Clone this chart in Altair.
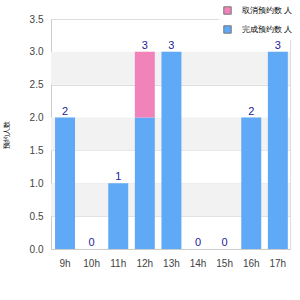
import altair as alt
import pandas as pd

hours = ["9h", "10h", "11h", "12h", "13h", "14h", "15h", "16h", "17h"]
series_a = [0, 0, 0, 1, 0, 0, 0, 0, 0]      # pink (top)
series_b = [2, 0, 1, 2, 3, 0, 0, 2, 3]      # blue (bottom)
name_a = "取消预约数 人"
name_b = "完成预约数 人"
y_title = "预约人数"
band_lo = [0.5, 1.5, 2.5]
band_hi = [1.0, 2.0, 3.0]
y_ticks = [0, 0.5, 1, 1.5, 2, 2.5, 3, 3.5]

rows = []
for h, a, b in zip(hours, series_a, series_b):
    rows.append({"hour": h, "series": name_b, "value": b, "ord": 0})
    rows.append({"hour": h, "series": name_a, "value": a, "ord": 1})
df = pd.DataFrame(rows)
tot = pd.DataFrame({"hour": hours, "total": [a + b for a, b in zip(series_a, series_b)]})
bands = pd.DataFrame({"lo": band_lo, "hi": band_hi})

FONT = "Liberation Sans"
yscale = alt.Scale(domain=[0, 3.5], nice=False)
yaxis = alt.Axis(values=y_ticks, format=".1f", ticks=False, labelOverlap=False,
                 labelColor="#444", labelFontSize=10, labelPadding=8,
                 gridColor="#dddddd", domainColor="#cccccc", labelFont=FONT,
                 titleFontSize=7, titleFontWeight="normal", titleColor="#000",
                 titlePadding=20, titleFont=FONT)
xscale = alt.Scale(paddingInner=0.25, paddingOuter=0.117, align=0.65)
xenc = alt.X("hour:N", sort=hours, title=None, scale=xscale,
             axis=alt.Axis(labelAngle=0, ticks=False, grid=False, labelColor="#444",
                           labelFontSize=10, labelPadding=9, domainColor="#cccccc",
                           labelFont=FONT))

bg = alt.Chart(bands).mark_rect(color="#f2f2f2").encode(
    x=alt.value(0), x2=alt.value(239),
    y=alt.Y("lo:Q", scale=yscale, title=y_title, axis=yaxis), y2="hi:Q")

bars = alt.Chart(df).mark_bar().encode(
    x=xenc,
    y=alt.Y("value:Q", stack="zero", scale=yscale, title=y_title, axis=yaxis),
    color=alt.Color("series:N", sort=[name_a, name_b],
                    scale=alt.Scale(domain=[name_a, name_b], range=["#f283ba", "#60a9f6"]),
                    legend=alt.Legend(title=None, orient="none", legendX=168, legendY=-17,
                                      symbolType="square", symbolSize=55, symbolStrokeColor="#777",
                                      symbolStrokeWidth=1, labelFontSize=8, labelColor="#000",
                                      labelFont=FONT,
                                      rowPadding=6, fillColor="white", padding=4,
                                      labelOffset=10)),
    order=alt.Order("ord:Q"))

labels = alt.Chart(tot).mark_text(baseline="bottom", dy=-1, fontSize=11, color="#22229a",
                                  font=FONT).encode(
    x=alt.X("hour:N", sort=hours, scale=xscale),
    y=alt.Y("total:Q", scale=yscale, title=y_title, axis=yaxis),
    text="total:Q")

chart = alt.layer(bg, bars, labels).properties(
    width=239, height=230,
    autosize=alt.AutoSizeParams(type="none"),
    padding={"left": 51, "top": 19, "right": 10, "bottom": 51},
).configure_view(stroke="#dddddd")

chart.save("out.html", embed_options={"renderer": "svg", "actions": False})
